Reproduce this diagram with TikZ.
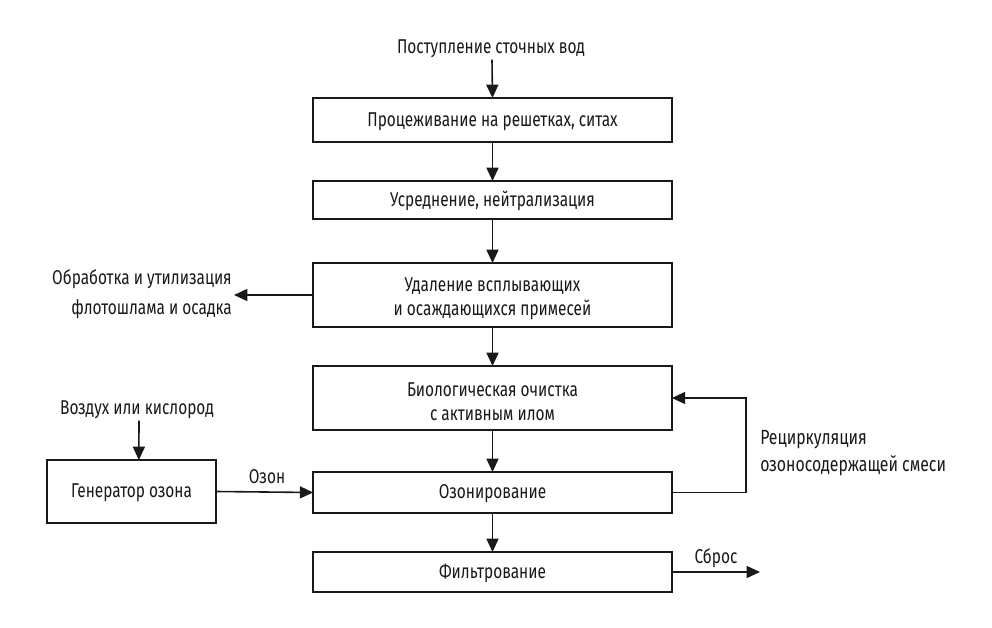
\documentclass[tikz,border=0pt]{standalone}
\usepackage{fontspec}
\setmainfont[FakeStretch=0.77]{Fira Sans}
\usetikzlibrary{arrows.meta}
\tikzset{
 px/.style={x=0.75pt,y=-0.75pt},
 lbl/.style={inner sep=0pt,align=center,font=\fontsize{15}{18}\selectfont,text=black!90},
 flow/.style={draw=black!90,line width=1.2pt,-{Triangle[length=10pt,width=9pt]}},
 boxx/.style={draw=black!90,line width=1.5pt,fill=white,inner sep=0pt,outer sep=0pt,align=center,
   font=\fontsize{15}{18}\selectfont,text=black!90,minimum width=269pt},
 hs/.style={minimum height=#1*0.75pt}
}
\begin{document}
\begin{tikzpicture}[px]
\useasboundingbox (0,0) rectangle (992,628);
\node[lbl] (t1) at (491,49) {Поступление сточных вод};
\node[boxx,hs=44] (b1) at (492.5,120) {\rule{0pt}{12.5pt}Процеживание на решетках, ситах};
\node[boxx,hs=38] (b2) at (492.5,200) {\rule{0pt}{12.5pt}Усреднение, нейтрализация};
\node[boxx,hs=64] (b3) at (492.5,295) {\rule{0pt}{16pt}Удаление всплывающих\\и осаждающихся примесей};
\node[boxx,hs=64] (b4) at (492.5,398) {\rule{0pt}{16pt}Биологическая очистка\\с активным илом};
\node[boxx,hs=41] (b5) at (492.5,492.5) {\rule{0pt}{12.5pt}Озонирование};
\node[boxx,hs=40] (b6) at (492.5,572) {\rule{0pt}{12.5pt}Фильтрование};
\node[boxx,hs=63,minimum width=127pt] (g) at (131.5,491.5) {\rule{0pt}{12.5pt}Генератор озона};
\node[lbl] (air) at (137,410) {Воздух или кислород};
\node[lbl,align=right,anchor=east,font=\fontsize{15}{22.5}\selectfont] (sl) at (232,294) {Обработка и утилизация\\флотошлама и осадка};
\node[lbl] (oz) at (267,477) {Озон};
\node[lbl] (sb) at (716,558) {Сброс};
\node[lbl,align=left,anchor=west,font=\fontsize{15.4}{20.5}\selectfont] (rc) at (760,453) {Рециркуляция\\озоносодержащей смеси};
\coordinate (slend) at (234,295);
\coordinate (sbend) at (760,572);
\draw[flow] ([xshift=0.75pt,yshift=-1pt]t1.south) -- (b1.north);
\draw[flow] (b1.south) -- (b2.north);
\draw[flow] (b2.south) -- (b3.north);
\draw[flow] (b3.south) -- (b4.north);
\draw[flow] (b4.south) -- (b5.north);
\draw[flow] (b5.south) -- (b6.north);
\draw[flow] ([xshift=1.5pt,yshift=-1pt]air.south) -- ([xshift=5.5pt]g.north);
\draw[flow] (g.east) -- (b5.west);
\draw[flow] (b3.west) -- (slend);
\draw[flow] (b6.east) -- (sbend);
\draw[flow] (b5.east) -- (746,492.5) |- (b4.east);
\end{tikzpicture}
\end{document}
